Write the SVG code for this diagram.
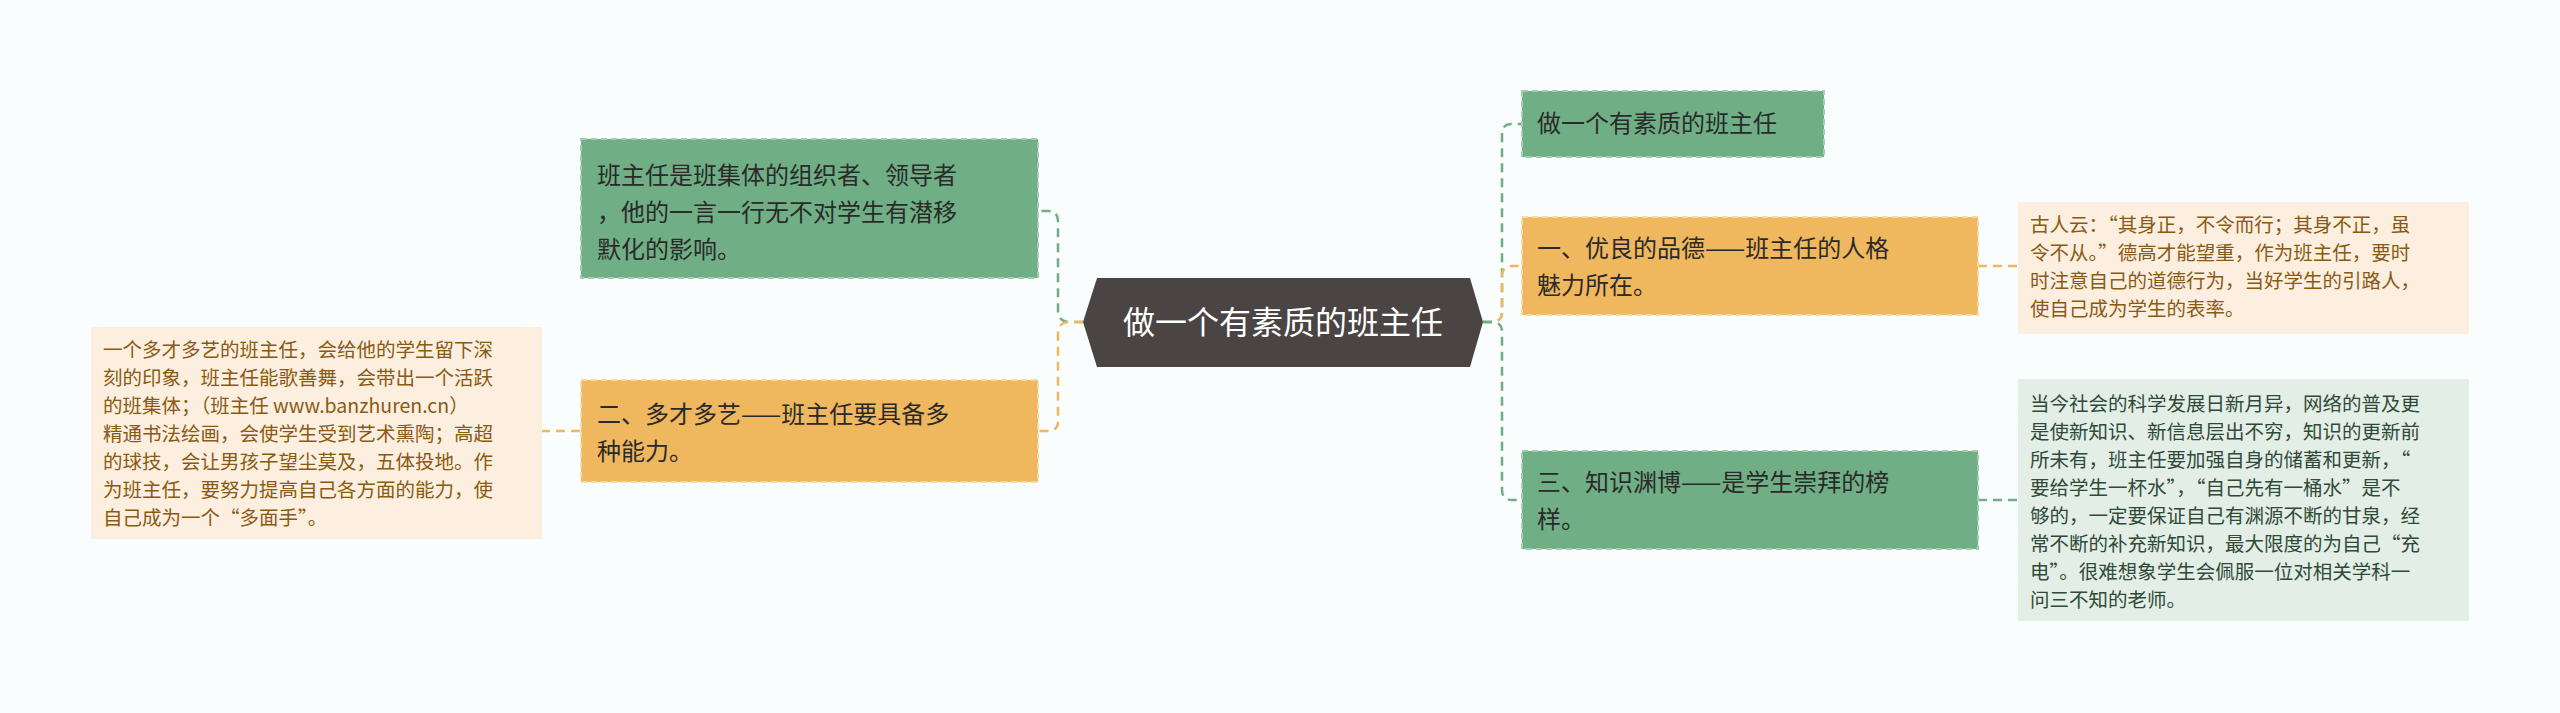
<svg xmlns="http://www.w3.org/2000/svg" width="2560" height="713" viewBox="0 0 2560 713">
<style>
text{font-family:"Noto Sans CJK SC","Noto Sans",sans-serif}
.g{fill:#70AF85;stroke:#A4CDB0;stroke-width:2;stroke-dasharray:6 4}
.o{fill:#F0B85E;stroke:#F7D9A4;stroke-width:2;stroke-dasharray:6 4}
.t{font-size:24px;fill:#2a2a2a}
.dt{font-size:19.5px}
.cg{fill:none;stroke:#70AF85;stroke-width:2.5;stroke-dasharray:9 6}
.co{fill:none;stroke:#F0B85E;stroke-width:2.5;stroke-dasharray:9 6}
</style>
<rect width="2560" height="713" fill="#FAFDFD"/>
<g id="connectors">
<path class="cg" d="M1083 322 H1070 Q1058 322 1058 310 V221 Q1058 211 1048 211 H1038"/>
<path class="co" d="M1083 322 H1070 Q1058 322 1058 334 V421 Q1058 431 1048 431 H1038"/>
<path class="co" d="M580 431 H542"/>
<path class="cg" d="M1483 322 H1492 Q1502 322 1502 312 V134 Q1502 124 1512 124 H1522"/>
<path class="co" d="M1483 322 H1492 Q1502 322 1502 312 V276 Q1502 266 1512 266 H1522"/>
<path class="cg" d="M1483 322 H1492 Q1502 322 1502 332 V490 Q1502 500 1512 500 H1522"/>
<path class="co" d="M1978 266 H2018"/>
<path class="cg" d="M1978 500 H2018"/>
</g>
<g id="center">
<polygon points="1097,278 1470,278 1483,322 1470,367 1097,367 1083,322" fill="#4A4544"/>
<text x="1283" y="334" font-size="32" fill="#fff" text-anchor="middle">做一个有素质的班主任</text>
</g>
<g id="n-left1">
<rect class="g" x="581" y="139" width="457" height="139"/>
<text class="t" x="597" y="184"><tspan x="597">班主任是班集体的组织者、领导者</tspan><tspan x="597" dy="37">，他的一言一行无不对学生有潜移</tspan><tspan x="597" dy="37">默化的影响。</tspan></text>
</g>
<g id="n-left2">
<rect class="o" x="581" y="380" width="457" height="102"/>
<text class="t" x="597" y="423"><tspan x="597">二、多才多艺——班主任要具备多</tspan><tspan x="597" dy="37">种能力。</tspan></text>
</g>
<g id="d-left">
<rect x="91" y="327" width="451" height="212" fill="#FCEFE0"/>
<text class="dt" fill="#8A5A12" x="103" y="357"><tspan x="103">一个多才多艺的班主任，会给他的学生留下深</tspan><tspan x="103" dy="28">刻的印象，班主任能歌善舞，会带出一个活跃</tspan><tspan x="103" dy="28">的班集体；（班主任  www.banzhuren.cn）</tspan><tspan x="103" dy="28">精通书法绘画，会使学生受到艺术熏陶；高超</tspan><tspan x="103" dy="28">的球技，会让男孩子望尘莫及，五体投地。作</tspan><tspan x="103" dy="28">为班主任，要努力提高自己各方面的能力，使</tspan><tspan x="103" dy="28">自己成为一个“多面手”。</tspan></text>
</g>
<g id="n-right0">
<rect class="g" x="1522" y="91" width="302" height="66"/>
<text class="t" x="1537" y="132">做一个有素质的班主任</text>
</g>
<g id="n-right1">
<rect class="o" x="1522" y="217" width="456" height="98"/>
<text class="t" x="1537" y="257"><tspan x="1537">一、优良的品德——班主任的人格</tspan><tspan x="1537" dy="37">魅力所在。</tspan></text>
</g>
<g id="n-right2">
<rect class="g" x="1522" y="451" width="456" height="98"/>
<text class="t" x="1537" y="491"><tspan x="1537">三、知识渊博——是学生崇拜的榜</tspan><tspan x="1537" dy="37">样。</tspan></text>
</g>
<g id="d-right1">
<rect x="2018" y="202" width="451" height="132" fill="#FCEFE0"/>
<text class="dt" fill="#8A5A12" x="2030" y="232"><tspan x="2030">古人云：“其身正，不令而行；其身不正，虽</tspan><tspan x="2030" dy="28">令不从。”德高才能望重，作为班主任，要时</tspan><tspan x="2030" dy="28">时注意自己的道德行为，当好学生的引路人，</tspan><tspan x="2030" dy="28">使自己成为学生的表率。</tspan></text>
</g>
<g id="d-right2">
<rect x="2018" y="379" width="451" height="242" fill="#E3EEE6"/>
<text class="dt" fill="#2F4A38" x="2030" y="411"><tspan x="2030">当今社会的科学发展日新月异，网络的普及更</tspan><tspan x="2030" dy="28">是使新知识、新信息层出不穷，知识的更新前</tspan><tspan x="2030" dy="28">所未有，班主任要加强自身的储蓄和更新，“</tspan><tspan x="2030" dy="28">要给学生一杯水”，“自己先有一桶水”是不</tspan><tspan x="2030" dy="28">够的，一定要保证自己有渊源不断的甘泉，经</tspan><tspan x="2030" dy="28">常不断的补充新知识，最大限度的为自己“充</tspan><tspan x="2030" dy="28">电”。很难想象学生会佩服一位对相关学科一</tspan><tspan x="2030" dy="28">问三不知的老师。</tspan></text>
</g>
</svg>
